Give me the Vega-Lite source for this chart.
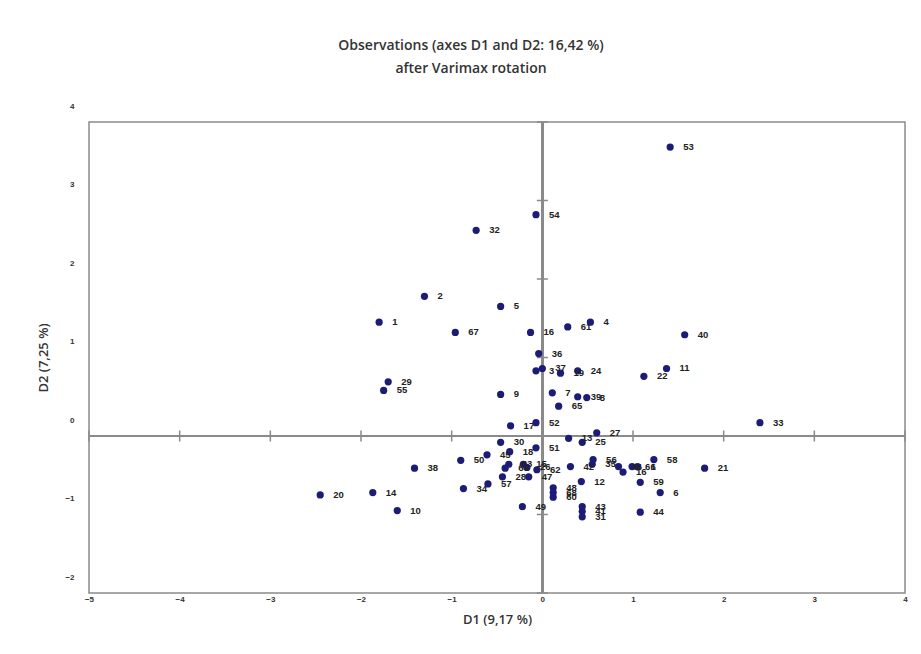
{
  "$schema": "https://vega.github.io/schema/vega-lite/v6.json",
  "width": 816,
  "height": 471,
  "autosize": {"type": "none"},
  "padding": {"left": 89, "top": 122, "right": 16, "bottom": 61},
  "background": "white",
  "config": {
    "view": {"stroke": "#8a8a8a", "strokeWidth": 1.5},
    "axis": {"grid": false, "domain": false, "ticks": false}
  },
  "title": {
    "text": ["Observations (axes D1 and D2: 16,42 %)", "after Varimax rotation"],
    "font": "Open Sans",
    "fontSize": 14,
    "fontWeight": 600,
    "color": "#333333",
    "lineHeight": 23,
    "anchor": "middle",
    "frame": "group",
    "dx": -26,
    "offset": 26
  },
  "datasets": {
    "obs": [
      {"label": "53", "D1": 1.41, "D2": 3.68},
      {"label": "54", "D1": -0.07, "D2": 2.82},
      {"label": "32", "D1": -0.73, "D2": 2.62},
      {"label": "2", "D1": -1.30, "D2": 1.78},
      {"label": "5", "D1": -0.46, "D2": 1.65},
      {"label": "1", "D1": -1.80, "D2": 1.45},
      {"label": "67", "D1": -0.96, "D2": 1.32},
      {"label": "16", "D1": -0.13, "D2": 1.32},
      {"label": "61", "D1": 0.28, "D2": 1.39},
      {"label": "4", "D1": 0.53, "D2": 1.45},
      {"label": "40", "D1": 1.57, "D2": 1.29},
      {"label": "36", "D1": -0.04, "D2": 1.05},
      {"label": "3", "D1": -0.07, "D2": 0.83},
      {"label": "37", "D1": 0.00, "D2": 0.86},
      {"label": "19", "D1": 0.20, "D2": 0.80},
      {"label": "24", "D1": 0.39, "D2": 0.83},
      {"label": "22", "D1": 1.12, "D2": 0.76},
      {"label": "11", "D1": 1.37, "D2": 0.86},
      {"label": "29", "D1": -1.70, "D2": 0.69},
      {"label": "55", "D1": -1.75, "D2": 0.58},
      {"label": "9", "D1": -0.46, "D2": 0.53},
      {"label": "7", "D1": 0.11, "D2": 0.55},
      {"label": "39", "D1": 0.39, "D2": 0.50},
      {"label": "8", "D1": 0.49, "D2": 0.49},
      {"label": "65", "D1": 0.18, "D2": 0.38},
      {"label": "52", "D1": -0.07, "D2": 0.17},
      {"label": "17", "D1": -0.35, "D2": 0.13},
      {"label": "27", "D1": 0.60, "D2": 0.04},
      {"label": "13", "D1": 0.29, "D2": -0.03},
      {"label": "25", "D1": 0.44, "D2": -0.08},
      {"label": "33", "D1": 2.40, "D2": 0.17},
      {"label": "30", "D1": -0.46, "D2": -0.08},
      {"label": "51", "D1": -0.07, "D2": -0.15},
      {"label": "18", "D1": -0.36, "D2": -0.20},
      {"label": "45", "D1": -0.61, "D2": -0.24},
      {"label": "50", "D1": -0.90, "D2": -0.31},
      {"label": "38", "D1": -1.41, "D2": -0.41},
      {"label": "20", "D1": -2.45, "D2": -0.75},
      {"label": "14", "D1": -1.87, "D2": -0.72},
      {"label": "10", "D1": -1.60, "D2": -0.95},
      {"label": "34", "D1": -0.87, "D2": -0.67},
      {"label": "57", "D1": -0.60, "D2": -0.61},
      {"label": "28", "D1": -0.44, "D2": -0.52},
      {"label": "63", "D1": -0.37, "D2": -0.36},
      {"label": "64", "D1": -0.41, "D2": -0.41},
      {"label": "15", "D1": -0.21, "D2": -0.36},
      {"label": "26", "D1": -0.17, "D2": -0.40},
      {"label": "62", "D1": -0.06, "D2": -0.43},
      {"label": "47", "D1": -0.15, "D2": -0.52},
      {"label": "42", "D1": 0.31, "D2": -0.39},
      {"label": "35", "D1": 0.55, "D2": -0.36},
      {"label": "56", "D1": 0.56, "D2": -0.30},
      {"label": "12", "D1": 0.43, "D2": -0.58},
      {"label": "48", "D1": 0.12, "D2": -0.66},
      {"label": "68", "D1": 0.12, "D2": -0.72},
      {"label": "60", "D1": 0.12, "D2": -0.78},
      {"label": "49", "D1": -0.22, "D2": -0.90},
      {"label": "43", "D1": 0.44, "D2": -0.90},
      {"label": "41", "D1": 0.44, "D2": -0.96},
      {"label": "31", "D1": 0.44, "D2": -1.03},
      {"label": "46", "D1": 0.84, "D2": -0.39},
      {"label": "16", "D1": 0.89, "D2": -0.46},
      {"label": "66", "D1": 0.99, "D2": -0.39},
      {"label": "1", "D1": 1.05, "D2": -0.39},
      {"label": "58", "D1": 1.23, "D2": -0.30},
      {"label": "21", "D1": 1.79, "D2": -0.41},
      {"label": "59", "D1": 1.08, "D2": -0.59},
      {"label": "6", "D1": 1.30, "D2": -0.72},
      {"label": "44", "D1": 1.08, "D2": -0.97}
    ],
    "xticks": [
      {"v": -5}, {"v": -4}, {"v": -3}, {"v": -2}, {"v": -1},
      {"v": 0}, {"v": 1}, {"v": 2}, {"v": 3}, {"v": 4}
    ],
    "yticks": [
      {"v": -2}, {"v": -1}, {"v": 0}, {"v": 1}, {"v": 2}, {"v": 3}, {"v": 4}
    ]
  },
  "layer": [
    {
      "data": {"name": "xticks"},
      "mark": {"type": "tick", "orient": "vertical", "size": 11, "thickness": 1.5, "color": "#8a8a8a", "opacity": 1},
      "encoding": {
        "x": {
          "field": "v", "type": "quantitative",
          "scale": {"domain": [-5, 4], "nice": false, "zero": false},
          "axis": {
            "orient": "bottom",
            "title": "D1 (9,17 %)",
            "values": [-5, -4, -3, -2, -1, 0, 1, 2, 3, 4],
            "format": "d",
            "labelFont": "Liberation Sans", "labelFontSize": 8, "labelFontWeight": "bold", "labelColor": "#333333",
            "labelPadding": 2, "labelFlush": false,
            "titleFont": "Open Sans", "titleFontSize": 13, "titleFontWeight": 600, "titleColor": "#333333",
            "titlePadding": 10
          }
        },
        "y": {
          "datum": 0, "type": "quantitative",
          "scale": {"domain": [-2, 4], "nice": false, "zero": false},
          "axis": {
            "orient": "left",
            "title": "D2 (7,25 %)",
            "values": [-2, -1, 0, 1, 2, 3, 4],
            "format": "d",
            "labelFont": "Liberation Sans", "labelFontSize": 8, "labelFontWeight": "bold", "labelColor": "#333333",
            "labelPadding": 15, "labelOffset": -16, "labelFlush": false,
            "titleFont": "Open Sans", "titleFontSize": 13, "titleFontWeight": 600, "titleColor": "#333333",
            "titlePadding": 14
          }
        }
      }
    },
    {
      "data": {"name": "obs"},
      "mark": {"type": "rule", "color": "#8a8a8a", "strokeWidth": 2},
      "encoding": {
        "y": {"datum": 0, "type": "quantitative"}
      }
    },
    {
      "data": {"name": "obs"},
      "mark": {"type": "rule", "color": "#8a8a8a", "strokeWidth": 2},
      "encoding": {
        "x": {"datum": 0, "type": "quantitative"}
      }
    },
    {
      "data": {"name": "yticks"},
      "mark": {"type": "tick", "orient": "horizontal", "size": 11, "thickness": 1.5, "color": "#8a8a8a", "opacity": 1},
      "encoding": {
        "y": {"field": "v", "type": "quantitative"},
        "x": {"datum": 0, "type": "quantitative"}
      }
    },
    {
      "data": {"name": "obs"},
      "mark": {"type": "circle", "size": 52, "color": "#1c1c78", "opacity": 1},
      "encoding": {
        "x": {"field": "D1", "type": "quantitative"},
        "y": {"field": "D2", "type": "quantitative"}
      }
    },
    {
      "data": {"name": "obs"},
      "mark": {"type": "text", "align": "left", "baseline": "middle", "dx": 13, "font": "Liberation Sans", "fontSize": 9.5, "fontWeight": "bold", "color": "#222222"},
      "encoding": {
        "x": {"field": "D1", "type": "quantitative"},
        "y": {"field": "D2", "type": "quantitative"},
        "text": {"field": "label", "type": "nominal"}
      }
    }
  ]
}
